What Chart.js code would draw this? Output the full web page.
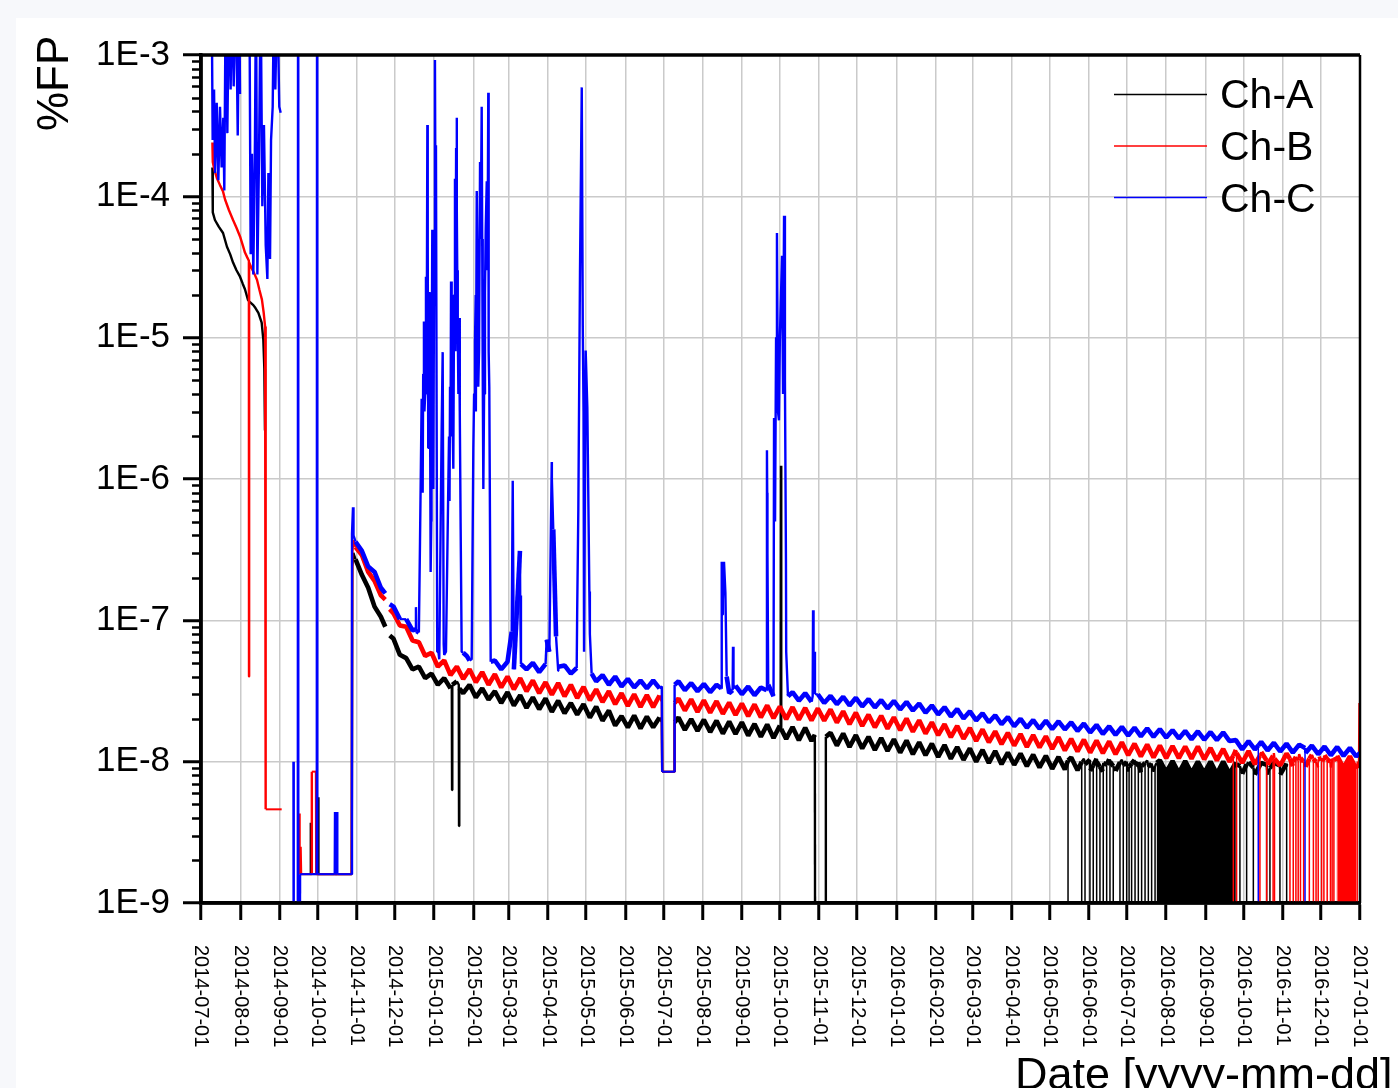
<!DOCTYPE html>
<html>
<head>
<meta charset="utf-8">
<title>%FP vs Date</title>
<script src="https://cdn.jsdelivr.net/npm/chart.js@4.4.1/dist/chart.umd.min.js"></script>
<style>
  body { margin: 0; background: #f7f8fb; }
  #wrap { position: absolute; left: 16px; top: 18px; width: 1382px; height: 1070px; background: #fff; }
</style>
</head>
<body>
<div id="wrap"><canvas id="chart" width="1382" height="1070"></canvas></div>
<script>
const FONT = "'Liberation Sans', Arial, sans-serif";
const FLOOR = 1e-10; // reading of zero, below the axis

// Monthly tick labels on the date axis
const tickDates = ["2014-07-01","2014-08-01","2014-09-01","2014-10-01","2014-11-01","2014-12-01",
  "2015-01-01","2015-02-01","2015-03-01","2015-04-01","2015-05-01","2015-06-01","2015-07-01",
  "2015-08-01","2015-09-01","2015-10-01","2015-11-01","2015-12-01","2016-01-01","2016-02-01",
  "2016-03-01","2016-04-01","2016-05-01","2016-06-01","2016-07-01","2016-08-01","2016-09-01",
  "2016-10-01","2016-11-01","2016-12-01","2017-01-01"];
const yTicks = [1e-9, 1e-8, 1e-7, 1e-6, 1e-5, 1e-4, 1e-3];

// Sampling days (days since 2014-07-01) of the noisy band
const bandDays = [122,127,132,137,142,147,152,157,162,167,
  172,177,182,187,192,197,202,207,212,217,
  222,227,232,237,242,247,252,257,262,267,
  272,277,282,287,292,297,302,307,312,317,
  322,327,332,337,342,347,352,357,362,367,
  372,377,382,387,392,397,402,407,412,417,
  422,427,432,437,442,447,452,457,462,467,
  472,477,482,487,492,497,502,507,512,517,
  522,527,532,537,542,547,552,557,562,567,
  572,577,582,587,592,597,602,607,612,617,
  622,627,632,637,642,647,652,657,662,667,
  672,677,682,687,692,697,702,707,712,717,
  722,727,732,737,742,747,752,757,762,767,
  772,777,782,787,792,797,802,807,812,817,
  822,827,832,837,842,847,852,857,862,867,
  872,877,882,887,892,897,902,907,912];

const chA = [2.7e-7,2.1e-7,1.7e-7,1.25e-7,1.06e-7,null,7.4e-8,5.7e-8,5.4e-8,4.5e-8,
  4.7e-8,3.9e-8,4.2e-8,3.5e-8,3.9e-8,3.3e-8,3.7e-8,3.05e-8,3.5e-8,2.85e-8,
  3.3e-8,2.75e-8,3.15e-8,2.6e-8,3.1e-8,2.5e-8,2.95e-8,2.4e-8,2.85e-8,2.35e-8,
  2.8e-8,2.25e-8,2.7e-8,2.2e-8,2.6e-8,2.15e-8,2.55e-8,2.05e-8,2.45e-8,1.95e-8,
  2.3e-8,1.8e-8,2.1e-8,1.75e-8,2.12e-8,1.72e-8,2.08e-8,1.75e-8,2.05e-8,8.5e-9,
  8.5e-9,2.05e-8,1.68e-8,2.0e-8,1.65e-8,1.98e-8,1.62e-8,1.95e-8,1.58e-8,1.92e-8,
  1.57e-8,1.9e-8,1.53e-8,1.85e-8,1.5e-8,1.83e-8,1.47e-8,1.8e-8,1.45e-8,1.76e-8,
  1.42e-8,1.74e-8,1.4e-8,1e-10,1e-10,1.6e-8,1.3e-8,1.58e-8,1.27e-8,1.54e-8,
  1.24e-8,1.5e-8,1.21e-8,1.47e-8,1.19e-8,1.44e-8,1.16e-8,1.41e-8,1.13e-8,1.37e-8,
  1.11e-8,1.34e-8,1.08e-8,1.31e-8,1.05e-8,1.27e-8,1.03e-8,1.24e-8,1.0e-8,1.21e-8,
  9.8e-9,1.19e-8,9.6e-9,1.16e-8,9.5e-9,1.14e-8,9.3e-9,1.12e-8,9.1e-9,1.1e-8,
  8.9e-9,1.08e-8,8.8e-9,1.07e-8,8.7e-9,1.05e-8,8.6e-9,1.05e-8,8.5e-9,1.04e-8,
  8.6e-9,1.03e-8,8.5e-9,1.03e-8,8.4e-9,1.02e-8,8.5e-9,1.02e-8,8.4e-9,1.01e-8,
  8.3e-9,1.01e-8,8.3e-9,1.0e-8,8.3e-9,1.0e-8,8.2e-9,1.0e-8,8.2e-9,9.9e-9,
  8.2e-9,9.9e-9,8.1e-9,9.8e-9,8.1e-9,9.8e-9,8.1e-9,9.7e-9,null,null,
  null,null,null,null,null,null,null,null,null];

const chB = [3.3e-7,2.9e-7,2.2e-7,1.9e-7,1.5e-7,null,1.12e-7,9.2e-8,9.0e-8,7.2e-8,
  7.0e-8,5.6e-8,5.9e-8,4.7e-8,5.2e-8,4.1e-8,4.7e-8,3.85e-8,4.5e-8,3.65e-8,
  4.3e-8,3.5e-8,4.15e-8,3.35e-8,4.0e-8,3.25e-8,3.9e-8,3.15e-8,3.75e-8,3.05e-8,
  3.65e-8,2.98e-8,3.6e-8,2.9e-8,3.5e-8,2.82e-8,3.38e-8,2.72e-8,3.25e-8,2.64e-8,
  3.15e-8,2.55e-8,3.05e-8,2.48e-8,3.0e-8,2.44e-8,2.96e-8,2.43e-8,2.94e-8,8.5e-9,
  8.5e-9,2.8e-8,2.3e-8,2.76e-8,2.25e-8,2.72e-8,2.22e-8,2.68e-8,2.18e-8,2.62e-8,
  2.14e-8,2.58e-8,2.1e-8,2.54e-8,2.06e-8,2.5e-8,2.03e-8,2.45e-8,2.0e-8,2.43e-8,
  1.98e-8,2.4e-8,1.96e-8,2.38e-8,1.95e-8,2.34e-8,1.89e-8,2.27e-8,1.84e-8,2.22e-8,
  1.79e-8,2.15e-8,1.75e-8,2.11e-8,1.71e-8,2.06e-8,1.67e-8,2.02e-8,1.63e-8,1.96e-8,
  1.58e-8,1.9e-8,1.54e-8,1.84e-8,1.49e-8,1.79e-8,1.45e-8,1.73e-8,1.4e-8,1.69e-8,
  1.37e-8,1.64e-8,1.33e-8,1.6e-8,1.3e-8,1.57e-8,1.27e-8,1.54e-8,1.26e-8,1.51e-8,
  1.23e-8,1.49e-8,1.2e-8,1.45e-8,1.18e-8,1.43e-8,1.16e-8,1.41e-8,1.15e-8,1.39e-8,
  1.13e-8,1.37e-8,1.11e-8,1.34e-8,1.09e-8,1.32e-8,1.07e-8,1.3e-8,1.06e-8,1.29e-8,
  1.06e-8,1.28e-8,1.05e-8,1.28e-8,1.04e-8,1.25e-8,1.02e-8,1.23e-8,1.0e-8,1.21e-8,
  9.8e-9,1.19e-8,9.6e-9,1.17e-8,9.5e-9,1.15e-8,9.4e-9,1.14e-8,9.3e-9,1.13e-8,
  9.2e-9,1.12e-8,9.1e-9,1.11e-8,9.1e-9,1.1e-8,9.0e-9,1.09e-8,8.9e-9];

const chC = [3.6e-7,3.1e-7,2.4e-7,2.2e-7,1.7e-7,null,1.25e-7,1.02e-7,1.02e-7,8.5e-8,
  8.2e-8,4e-6,3e-6,6.5e-8,5.7e-8,2e-6,8e-5,5.9e-8,5.2e-8,3e-6,
  5e-5,2e-5,5.2e-8,4.5e-8,5.1e-8,4.5e-8,1.5e-7,4.5e-8,5.0e-8,4.3e-8,
  4.9e-8,1.0e-6,4.4e-8,4.8e-8,4.2e-8,1.2e-7,3e-6,8e-8,3.7e-8,4.1e-8,
  3.5e-8,4.0e-8,3.4e-8,3.85e-8,3.35e-8,3.75e-8,3.3e-8,3.75e-8,3.3e-8,8.5e-9,
  8.5e-9,3.7e-8,3.2e-8,3.6e-8,3.15e-8,3.55e-8,3.1e-8,3.5e-8,1.4e-7,3.05e-8,
  3.45e-8,3.0e-8,3.4e-8,2.95e-8,3.35e-8,8e-7,2.9e-8,1e-5,6e-8,3.1e-8,
  2.7e-8,3.05e-8,2.65e-8,3.0e-8,2.6e-8,2.92e-8,2.55e-8,2.88e-8,2.5e-8,2.83e-8,
  2.46e-8,2.77e-8,2.42e-8,2.73e-8,2.38e-8,2.69e-8,2.34e-8,2.65e-8,2.3e-8,2.58e-8,
  2.22e-8,2.5e-8,2.16e-8,2.43e-8,2.09e-8,2.36e-8,2.02e-8,2.27e-8,1.96e-8,2.2e-8,
  1.9e-8,2.13e-8,1.84e-8,2.07e-8,1.78e-8,2.01e-8,1.74e-8,1.97e-8,1.71e-8,1.95e-8,
  1.7e-8,1.93e-8,1.69e-8,1.9e-8,1.65e-8,1.86e-8,1.61e-8,1.82e-8,1.57e-8,1.78e-8,
  1.55e-8,1.76e-8,1.53e-8,1.74e-8,1.51e-8,1.72e-8,1.5e-8,1.7e-8,1.48e-8,1.67e-8,
  1.46e-8,1.65e-8,1.44e-8,1.64e-8,1.43e-8,1.62e-8,1.42e-8,1.61e-8,1.4e-8,1.42e-8,
  1.22e-8,1.4e-8,1.22e-8,1.38e-8,1.2e-8,1.36e-8,1.18e-8,1.34e-8,1.16e-8,1.32e-8,
  1.15e-8,1.3e-8,1.13e-8,1.28e-8,1.11e-8,1.27e-8,1.1e-8,1.25e-8,1.09e-8];

// Early transients, gaps, steps and spikes: [day, value]
const extraA = [[9.0,1.6e-4],[9.3,7.7e-5],[11.0,6.8e-5],[14.0,6.1e-5],[17.4,5.5e-5],[20.5,4.4e-5],
  [23.0,3.9e-5],[25.3,3.4e-5],[28.0,3.0e-5],[30.8,2.7e-5],[33.0,2.4e-5],[34.7,2.2e-5],[37.1,1.85e-5],
  [38.2,1.8e-5],[41.3,1.7e-5],[43.0,1.62e-5],[45.3,1.5e-5],[47.9,1.28e-5],[49.2,9.7e-6],[50.0,6.0e-6],
  [50.5,2.2e-6],[60.0,null],
  [78.5,1.6e-9],[86.4,1.6e-9],[86.6,3.7e-9],[86.8,1.6e-9],[92.4,1.6e-9],[92.6,5.6e-9],[92.8,1.6e-9],
  [119.0,1.6e-9],[119.4,2.4e-7],[120.3,3.0e-7],
  [145.5,9.0e-8],[149.0,7.8e-8],
  [198.0,3.4e-8],[198.2,6.3e-9],[198.4,3.5e-8],[203.5,3.5e-8],[203.7,3.5e-9],[203.9,3.3e-8],
  [363.8,1.9e-8],[364.1,8.5e-9],[373.6,8.5e-9],[373.9,1.9e-8],
  [457.7,1.65e-8],[457.9,1.24e-6],[458.1,1.7e-8],
  [484.6,1.55e-8],[484.9,1e-10],[493.0,1e-10],[493.3,1.5e-8],
  [754.4,9.8e-9],[817.7,9.6e-9]];

const extraB = [[9.0,2.4e-4],[9.3,1.75e-4],[10.5,1.55e-4],[12.5,1.35e-4],[15.0,1.2e-4],[17.4,1.08e-4],
  [19.0,9.5e-5],[22.0,8.0e-5],[25.3,6.8e-5],[28.0,6.0e-5],[30.8,5.2e-5],[33.0,4.5e-5],[34.7,4.0e-5],
  [36.5,3.7e-5],[37.8,3.5e-5],[37.9,4.0e-8],[38.0,3.4e-5],[40.0,3.1e-5],[42.0,2.85e-5],[44.2,2.57e-5],
  [46.0,2.2e-5],[48.1,1.86e-5],[49.5,1.5e-5],[50.6,1.2e-5],[51.0,9.0e-6],[51.1,4.6e-9],[63.7,4.6e-9],
  [64.0,null],
  [77.5,4.3e-9],[77.8,1.6e-9],[78.6,2.5e-9],[79.0,1.6e-9],[87.4,1.6e-9],[87.5,8.5e-9],[90.8,8.5e-9],
  [91.0,1.6e-9],[119.0,1.6e-9],[119.4,3.0e-7],[120.3,3.7e-7],
  [145.5,1.4e-7],[149.0,1.2e-7],
  [363.8,2.65e-8],[364.1,8.5e-9],[373.6,8.5e-9],[373.9,2.6e-8],
  [896.5,1.05e-8],[913.4,1.0e-8],[914.2,9.0e-9],[914.6,2.6e-8],[915.0,1.8e-8]];

const extraC = [[8.4,3e-3],[9.2,2.5e-4],[10.3,5.7e-4],[11.1,1.46e-4],[12.4,4.6e-4],[13.7,1.3e-4],
  [15.0,4.3e-4],[16.3,1.6e-4],[17.6,3.6e-4],[18.4,1.1e-4],[19.5,3e-3],[20.8,2.8e-4],[22.1,3e-3],
  [23.4,5.7e-4],[24.5,3e-3],[25.8,6.0e-4],[27.6,3e-3],[29.0,2.7e-4],[30.2,3e-3],[30.8,5.3e-4],[31.0,null],
  [38.2,3e-3],[39.2,3.9e-5],[40.2,2.0e-4],[41.3,2.8e-5],[42.6,2.5e-4],[43.4,3e-3],[44.5,2.8e-5],
  [45.8,1.9e-4],[47.1,3e-3],[48.4,8.5e-5],[49.7,3.2e-4],[51.1,4.5e-5],[52.4,2.6e-5],[53.2,1.46e-4],
  [54.5,3.6e-5],[55.3,2.5e-4],[56.6,4.3e-4],[57.6,3e-3],[58.7,5.7e-4],[60.2,3e-3],[61.8,4.3e-4],
  [62.9,3.9e-4],[63.2,null],
  [73.0,1.0e-8],[73.2,1e-10],[76.4,1e-10],[76.6,3e-3],[76.8,1e-10],[78.0,1e-10],[78.2,1.6e-9],
  [91.4,1.6e-9],[91.6,3e-3],[91.8,1.6e-9],[105.6,1.6e-9],[105.8,4.4e-9],[106.0,1.6e-9],[107.2,1.6e-9],
  [107.4,4.4e-9],[107.6,1.6e-9],[119.0,1.6e-9],[119.2,4.1e-7],[120.0,6.3e-7],[120.4,4.0e-7],
  [145.5,1.55e-7],[149.0,1.3e-7],
  [169.5,8.6e-8],[169.7,1.24e-7],[170.0,8.4e-8],
  [172.9,3.6e-7],[174.2,3.7e-6],[174.6,1.2e-6],[175.0,8.0e-7],[175.4,5.5e-6],[176.0,1.3e-5],
  [176.4,3.0e-6],[177.6,2.7e-5],[178.2,8.0e-6],[178.7,3.2e-4],[179.0,4.5e-5],[179.4,1.66e-6],
  [179.8,4.0e-6],[180.2,2.1e-5],[180.7,7.0e-6],[181.3,2.2e-7],[181.8,5.0e-7],[182.6,5.8e-5],
  [183.0,6.0e-6],[183.4,8.5e-7],[184.0,3.0e-5],[184.7,9.2e-4],[185.1,8.0e-5],[185.5,2.3e-4],
  [186.5,6.0e-8],[188.1,5.3e-8],[190.0,2.3e-6],[190.8,7.9e-6],[191.6,6.8e-8],
  [193.4,6.0e-8],[195.2,8.5e-7],[195.8,2.0e-6],[196.2,7.0e-7],[196.6,4.5e-6],[197.4,2.5e-5],
  [197.9,9.3e-6],[198.5,3.0e-6],[199.2,1.18e-6],[199.8,2.0e-5],[200.5,1.33e-4],[200.9,8.0e-6],
  [201.4,2.2e-4],[201.9,3.6e-4],[202.3,3.0e-5],[202.7,1.2e-5],[203.2,4.0e-6],[203.7,1.38e-5],
  [204.3,3.0e-6],[205.0,4.4e-7],[205.8,6.0e-8],[209.8,5.6e-8],
  [213.7,5.3e-8],[215.0,1.66e-6],[215.6,4.0e-6],[216.3,9.3e-6],[216.9,2.0e-5],[217.7,1.09e-4],
  [218.3,3.0e-5],[218.9,4.5e-6],[219.5,8.0e-6],[220.3,1.75e-4],[220.8,5.0e-5],[221.6,4.3e-4],
  [222.4,6.0e-6],[222.9,8.5e-7],[223.5,4.0e-6],[224.2,2.1e-5],[224.8,6.0e-5],[225.6,1.28e-4],
  [226.2,3.0e-5],[226.8,5.4e-4],[227.2,8.0e-6],[227.6,4.5e-6],[228.7,5.1e-8],
  [245.3,8.3e-8],[246.1,9.7e-7],[246.9,6.0e-8],[251.8,3.1e-7],[252.6,4.9e-8],
  [272.9,7.3e-8],[275.0,6.0e-8],[276.9,1.32e-6],[278.1,4.4e-7],[280.3,7.7e-8],[282.1,4.7e-8],
  [296.6,4.6e-8],[297.9,6.1e-7],[299.2,2.9e-5],[300.6,5.9e-4],[301.4,1.2e-5],[302.4,6.0e-8],
  [303.7,8.1e-6],[305.0,3.2e-6],[306.6,1.6e-7],[308.4,4.2e-8],
  [363.8,3.4e-8],[364.1,8.5e-9],[373.6,8.5e-9],[373.9,3.5e-8],
  [410.8,3.3e-8],[411.1,2.6e-7],[411.8,1.1e-7],[412.9,2.6e-7],[414.0,1.56e-7],[415.0,4.0e-8],
  [419.7,3.2e-8],[420.0,6.5e-8],[420.4,3.3e-8],
  [446.5,3.2e-8],[446.8,1.6e-6],[447.2,3.0e-7],[447.8,3.5e-8],[452.4,2.7e-6],[453.2,5.0e-7],
  [454.0,1.0e-5],[454.7,5.5e-5],[455.5,3.0e-6],[456.3,2.6e-6],[457.9,2.0e-5],[458.7,3.8e-5],
  [459.5,4.0e-6],[460.3,7.3e-5],[461.0,5.0e-6],[461.8,2.7e-7],[463.4,2.9e-8],
  [482.9,2.9e-8],[483.2,1.18e-7],[483.6,5.0e-8],[484.2,6.0e-8],[484.7,3.0e-8],
  [915.0,1.15e-8]];

// Drop-outs to zero in 2016: [day, band level just before the drop]
const dipsA = [[684.5,1.02e-8],[695.3,1.0e-8],[697.9,9.6e-9],[701.8,1.03e-8],[704.4,9.4e-9],[707.1,1.0e-8],
  [709.7,9.2e-9],[712.3,9.8e-9],[715.0,9.5e-9],[717.6,1.0e-8],[720.2,9.3e-9],[725.5,9.9e-9],[728.1,9.4e-9],
  [730.8,1.0e-8],[732.7,9.2e-9],[734.7,9.7e-9],[737.4,9.4e-9],[740.0,9.9e-9],[742.6,9.3e-9],[745.3,9.8e-9],
  [747.9,9.2e-9],[750.5,9.7e-9],[753.2,9.3e-9],
  [820.2,9.3e-9],[825.5,9.6e-9],[830.8,9.1e-9],[841.3,9.5e-9],[843.9,9.0e-9],[851.8,9.4e-9],[857.1,9.2e-9]];
const dipsB = [[815.0,1.1e-8],[817.6,1.15e-8],[836.0,1.1e-8],[841.3,1.02e-8],[846.4,1.1e-8],[847.5,1.05e-8],
  [859.7,1.05e-8],[862.3,1.0e-8],[864.4,1.08e-8],[866.2,1.02e-8],[868.0,1.06e-8],[870.5,1.0e-8],
  [875.0,1.05e-8],[878.2,1.05e-8],[880.3,1.0e-8],[882.0,1.04e-8],[884.7,1.06e-8],[886.5,1.0e-8],
  [889.1,1.04e-8],[891.7,1.0e-8],[893.0,1.05e-8],[894.4,1.03e-8]];
const dipsC = [[834.7,1.3e-8],[871.6,1.25e-8]];

// Stretches where drop-outs are so dense the trace is solid down to zero
const solidA = [754.4, 817.7];
const solidB = [896.5, 913.4];

const origin = Date.parse(tickDates[0]);
const tickDays = tickDates.map((s) => (Date.parse(s) - origin) / 86400000);

function buildSeries(values, extra, dips) {
  const points = bandDays.map((d, i) => ({ x: d, y: values[i] }));
  extra.forEach(([d, v]) => points.push({ x: d, y: v }));
  dips.forEach(([d, top]) => points.push({ x: d, y: top }, { x: d, y: FLOOR }, { x: d, y: top }));
  return points.sort((a, b) => a.x - b.x);
}

function solidFill(range, color) {
  return (ctx) => (ctx.p0.parsed.x >= range[0] && ctx.p1.parsed.x <= range[1] ? color : undefined);
}

// the noisy band after the restart is drawn heavy, spikes/drop-outs/early trace thinner
function strokeWidth(ctx) {
  const p0 = ctx.p0.parsed, p1 = ctx.p1.parsed;
  const dx = Math.abs(p1.x - p0.x);
  if (dx === 0) return 1.5;
  if (p0.y === p1.y) return 2;
  if (p0.x < 121 || dx < 2) return 2.4;
  return 4.6;
}

const decorations = {
  id: "decorations",
  afterDraw(chart) {
    const { ctx, chartArea: a, scales } = chart;
    const x = scales.x, y = scales.y;
    ctx.save();

    // minor ticks on the log axis
    ctx.strokeStyle = "#000";
    ctx.lineWidth = 2.5;
    for (let k = -9; k < -3; k++) {
      for (let m = 2; m <= 9; m++) {
        const py = Math.round(y.getPixelForValue(m * Math.pow(10, k))) + 0.5;
        ctx.beginPath();
        ctx.moveTo(a.left - 9, py);
        ctx.lineTo(a.left, py);
        ctx.stroke();
      }
    }

    // frame
    ctx.lineWidth = 3.5;
    ctx.beginPath();
    ctx.moveTo(a.left, a.bottom);
    ctx.lineTo(a.left, a.top);
    ctx.lineTo(a.right, a.top);
    ctx.moveTo(a.left - 2, a.bottom);
    ctx.lineTo(a.right + 1, a.bottom);
    ctx.stroke();
    ctx.lineWidth = 2.5;
    ctx.beginPath();
    ctx.moveTo(a.right, a.top);
    ctx.lineTo(a.right, a.bottom);
    ctx.stroke();

    // date labels, reading downwards
    ctx.fillStyle = "#000";
    ctx.font = "20px " + FONT;
    ctx.textAlign = "left";
    ctx.textBaseline = "middle";
    tickDates.forEach((label, i) => {
      ctx.save();
      ctx.translate(x.getPixelForValue(tickDays[i]), a.bottom + 42);
      ctx.rotate(Math.PI / 2);
      ctx.fillText(label, 0, 0);
      ctx.restore();
    });

    // axis titles
    ctx.fillStyle = "#000";
    ctx.textBaseline = "alphabetic";
    ctx.font = "44px " + FONT;
    ctx.save();
    ctx.translate(52, 113);
    ctx.rotate(-Math.PI / 2);
    ctx.fillText("%FP", 0, 0);
    ctx.restore();
    ctx.font = "45px " + FONT;
    ctx.fillText("Date [yyyy-mm-dd]", 999, 1071);

    // legend
    ctx.font = "41px " + FONT;
    chart.data.datasets.forEach((ds, i) => {
      const ly = 76.5 + i * 51.5;
      ctx.strokeStyle = ds.borderColor;
      ctx.lineWidth = 1.5;
      ctx.beginPath();
      ctx.moveTo(1098, ly);
      ctx.lineTo(1191, ly);
      ctx.stroke();
      ctx.fillStyle = "#000";
      ctx.fillText(ds.label, 1204, 90 + i * 52);
    });

    ctx.restore();
  },
};

const gridStyle = { color: "#cacaca", lineWidth: 1.5, tickColor: "#000", tickWidth: 3 };

new Chart(document.getElementById("chart"), {
  type: "line",
  data: {
    datasets: [
      {
        label: "Ch-A",
        data: buildSeries(chA, extraA, dipsA),
        borderColor: "#000000",
        backgroundColor: "rgba(0,0,0,0)",
        fill: "start",
        order: 3,
        segment: { backgroundColor: solidFill(solidA, "#000000"), borderWidth: strokeWidth },
      },
      {
        label: "Ch-B",
        data: buildSeries(chB, extraB, dipsB),
        borderColor: "#ff0000",
        backgroundColor: "rgba(0,0,0,0)",
        fill: "start",
        order: 2,
        segment: { backgroundColor: solidFill(solidB, "#ff0000"), borderWidth: strokeWidth },
      },
      {
        label: "Ch-C",
        data: buildSeries(chC, extraC, dipsC),
        borderColor: "#0000ff",
        fill: false,
        order: 1,
        segment: { borderWidth: strokeWidth },
      },
    ],
  },
  options: {
    responsive: false,
    devicePixelRatio: 1,
    animation: false,
    layout: { padding: { top: 37, right: 38, left: 0, bottom: 0 } },
    datasets: { line: { borderWidth: 1.8, tension: 0, pointRadius: 0, borderJoinStyle: "bevel" } },
    plugins: { legend: { display: false }, tooltip: { enabled: false } },
    scales: {
      x: {
        type: "linear",
        min: 0,
        max: 915,
        afterBuildTicks: (s) => { s.ticks = tickDays.map((v) => ({ value: v })); },
        afterFit: (s) => { s.height = 185; },
        ticks: { display: false, autoSkip: false },
        grid: { ...gridStyle, tickLength: 17 },
        border: { color: "#000", width: 3.5 },
      },
      y: {
        type: "logarithmic",
        min: 1e-9,
        max: 1e-3,
        afterBuildTicks: (s) => { s.ticks = yTicks.map((v) => ({ value: v })); },
        afterFit: (s) => { s.width = 185; },
        ticks: {
          autoSkip: false,
          padding: 13,
          color: "#000",
          font: { family: FONT, size: 35 },
          callback: (v) => "1E" + Math.round(Math.log10(v)),
        },
        grid: { ...gridStyle, tickLength: 18 },
        border: { color: "#000", width: 3.5 },
      },
    },
  },
  plugins: [decorations],
});
</script>
</body>
</html>
